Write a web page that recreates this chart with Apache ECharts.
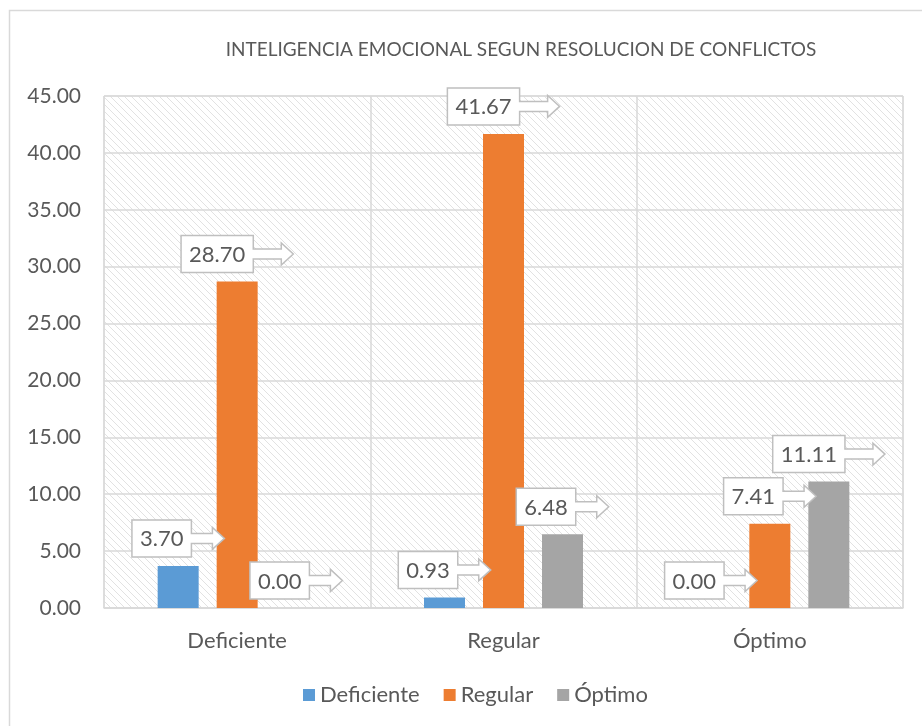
<!DOCTYPE html>
<html>
<head>
<meta charset="utf-8">
<script src="https://cdn.jsdelivr.net/npm/echarts@6/dist/echarts.min.js"></script>
<style>
html,body{margin:0;padding:0;background:#fff;}
#chart{width:922px;height:726px;}
</style>
</head>
<body>
<div id="chart"></div>
<script>
const title = 'INTELIGENCIA EMOCIONAL SEGUN RESOLUCION DE CONFLICTOS';
const categories = ['Deficiente', 'Regular', 'Óptimo'];
const seriesNames = ['Deficiente', 'Regular', 'Óptimo'];
const deficiente = [3.70, 0.93, 0.00];
const regular = [28.70, 41.67, 7.41];
const optimo = [0.00, 6.48, 11.11];
const seriesValues = [deficiente, regular, optimo];
const colors = ['#5B9BD5', '#ED7D31', '#A5A5A5'];
const yTicks = {min: 0, max: 45, interval: 5};

const FONT = 'Lato';
const TEXT = '#595959';
const GRIDC = '#d9d9d9';
const BAR_W = 41, BAR_GAP_PX = 18;

// hatch pattern
const pc = document.createElement('canvas');
pc.width = 7; pc.height = 7;
const pctx = pc.getContext('2d');
pctx.fillStyle = '#fff'; pctx.fillRect(0,0,7,7);
pctx.strokeStyle = '#e2e2e2'; pctx.lineWidth = 1;
for (const off of [-7, 0, 7]) {
  pctx.beginPath(); pctx.moveTo(off, 0); pctx.lineTo(off + 7, 7); pctx.stroke();
}

const mctx = document.createElement('canvas').getContext('2d');
const LABEL_FS = 22;
mctx.font = LABEL_FS + 'px ' + FONT;

function calloutRenderer(sIdx) {
  return function (params, api) {
    const ci = api.value(0), v = api.value(1);
    const pt = api.coord([ci, v]);
    const cx = pt[0] + (sIdx - 1) * (BAR_W + BAR_GAP_PX);
    const txt = v.toFixed(2);
    const tw = mctx.measureText(txt).width;
    const pad = 8;
    const bw = tw + 2 * pad, bh = 37;
    const L = Math.round(bw * 0.55);
    const T = bw + L;
    const x0 = cx - T / 2;
    const bottom = pt[1] - 9, top = bottom - bh, mid = top + bh / 2;
    const xb = x0 + bw, tip = x0 + T, hl = 12;
    const pts = [[x0, top], [xb, top], [xb, mid - 5], [tip - hl, mid - 5], [tip - hl, mid - 11],
      [tip, mid], [tip - hl, mid + 11], [tip - hl, mid + 5], [xb, mid + 5], [xb, bottom], [x0, bottom]];
    return {
      type: 'group',
      children: [
        {type: 'polygon', shape: {points: pts}, style: {fill: '#fff', stroke: '#bfbfbf', lineWidth: 1.5}},
        {type: 'text', style: {text: txt, x: x0 + bw / 2, y: mid + 1, align: 'center', verticalAlign: 'middle',
          fill: TEXT, font: LABEL_FS + 'px ' + FONT}}
      ]
    };
  };
}

const series = [];
seriesValues.forEach((vals, i) => {
  series.push({
    name: seriesNames[i], type: 'bar', data: vals, barWidth: BAR_W, barGap: (BAR_GAP_PX / BAR_W * 100) + '%',
    itemStyle: {color: colors[i]}, z: 2
  });
});
seriesValues.forEach((vals, i) => {
  series.push({
    type: 'custom', renderItem: calloutRenderer(i), z: 5, silent: true,
    data: vals.map((v, ci) => [ci, v]), encode: {x: 0, y: 1}
  });
});

const chart = echarts.init(document.getElementById('chart'), null, {renderer: 'canvas'});
chart.setOption({
  animation: false,
  textStyle: {fontFamily: FONT},
  title: {text: title, left: 516, textAlign: 'center', top: 35, textStyle: {fontFamily: FONT, fontSize: 19, fontWeight: 'normal', color: TEXT}},
  graphic: [{type: 'rect', shape: {x: 9.5, y: 10.5, width: 960, height: 760}, style: {fill: 'none', stroke: GRIDC, lineWidth: 1.5}, z: -10, silent: true}],
  legend: {data: seriesNames, top: 679, left: 298, icon: 'rect', itemWidth: 12, itemHeight: 12, itemGap: 24,
    textStyle: {fontFamily: FONT, fontSize: 22, color: TEXT}},
  grid: {left: 104, right: 19, top: 96, bottom: 118, show: true,
    backgroundColor: {image: pc, repeat: 'repeat'}, borderColor: GRIDC, borderWidth: 1},
  xAxis: {type: 'category', data: categories,
    axisLine: {lineStyle: {color: GRIDC, width: 1.5}}, axisTick: {show: false},
    axisLabel: {fontFamily: FONT, fontSize: 22, color: TEXT, margin: 22},
    splitLine: {show: true, lineStyle: {color: GRIDC, width: 1.5}}},
  yAxis: {type: 'value', min: yTicks.min, max: yTicks.max, interval: yTicks.interval,
    axisLine: {show: false}, axisTick: {show: false},
    axisLabel: {fontFamily: FONT, fontSize: 21, color: TEXT, margin: 23, formatter: v => v.toFixed(2)},
    splitLine: {lineStyle: {color: GRIDC, width: 1.5}}},
  series: series
});
</script>
</body>
</html>
